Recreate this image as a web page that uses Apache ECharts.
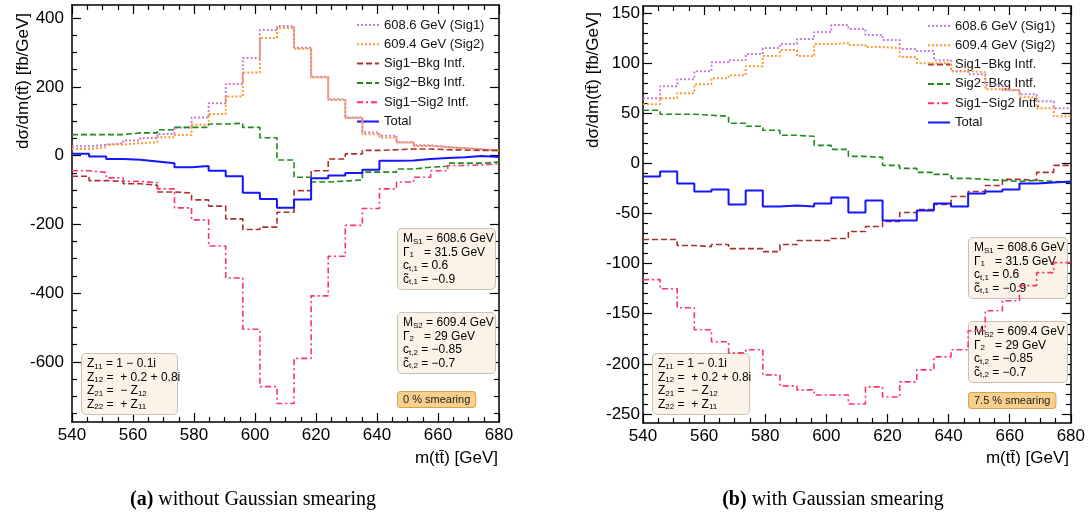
<!DOCTYPE html>
<html>
<head>
<meta charset="utf-8">
<title>m(tt) interference, two resonances</title>
<script src="https://cdn.jsdelivr.net/npm/echarts@6.0.0/dist/echarts.min.js"></script>
<style>
  * { margin: 0; padding: 0; }
  body { background: #fff; }
  #main { width: 1088px; height: 523px; }
</style>
</head>
<body>
<div id="main"></div>
<script>
// bin edges in m(tt) [GeV], 25 bins of 5.6 GeV
var binEdges = [540, 545.6, 551.2, 556.8, 562.4, 568, 573.6, 579.2, 584.8, 590.4, 596, 601.6, 607.2,
  612.8, 618.4, 624, 629.6, 635.2, 640.8, 646.4, 652, 657.6, 663.2, 668.8, 674.4, 680];

// (a) 0% smearing
var sig1A  = [27, 31, 36, 44, 51, 63, 82, 111, 152, 208, 284, 365, 377, 314, 229, 164, 111, 67, 58, 39, 30, 25, 22, 19, 15];
var sig2A  = [19, 24, 32, 36, 39, 53, 60, 90, 121, 172, 242, 342, 371, 311, 227, 162, 109, 62, 52, 38, 28, 24, 21, 18, 14];
var s1bkgA = [-60, -73, -75, -82, -86, -106, -109, -129, -147, -184, -215, -208, -165, -102, -44, -10, 5, 15, 17, 19, 19, 17, 16, 15, 15];
var s2bkgA = [61, 61, 61, 66, 66, 75, 82, 82, 92, 94, 82, 52, -13, -63, -77, -74, -71, -48, -48, -39, -34, -31, -22, -22, -19];
var s1s2A  = [-44, -49, -65, -75, -79, -97, -152, -187, -263, -356, -505, -672, -721, -590, -408, -293, -203, -154, -97, -77, -63, -44, -29, -27, -24];
var totalA = [5, -3, -10, -12, -17, -22, -34, -30, -44, -60, -108, -126, -152, -128, -66, -58, -51, -41, -15, -14, -10, -7, -5, -1, -4];

// (b) 7.5% smearing
var sig1B  = [65, 77, 84, 92, 101, 103, 109, 115, 119, 124, 131, 138, 134, 128, 123, 114, 112, 103, 92, 89, 78, 73, 69, 62, 55];
var sig2B  = [59, 65, 70, 79, 85, 88, 97, 107, 113, 107, 119, 120, 118, 116, 115, 106, 100, 100, 92, 91, 74, 73, 66, 55, 47];
var s1bkgB = [-76, -76, -82, -83, -81, -85, -85, -88, -81, -77, -77, -75, -68, -63, -58, -49, -46, -41, -33, -28, -22, -16, -17, -9, -2];
var s2bkgB = [53, 49, 49, 48, 47, 40, 37, 33, 28, 27, 18, 14, 7, 6, -2, -5, -9, -11, -15, -16, -17, -18, -17, -18, -19];
var s1s2B  = [-116, -125, -144, -166, -178, -189, -186, -211, -222, -226, -231, -231, -240, -223, -233, -218, -206, -193, -186, -167, -147, -137, -122, -109, -99];
var totalB = [-13, -8, -20, -28, -26, -41, -27, -43, -42, -43, -40, -34, -49, -37, -57, -57, -47, -40, -43, -30, -28, -26, -20, -19, -18];

// tick labels
var xTicks = [540, 560, 580, 600, 620, 640, 660, 680];
var yTicksA = [-600, -400, -200, 0, 200, 400];
var yTicksB = [-250, -200, -150, -100, -50, 0, 50, 100, 150];

var names = ['608.6 GeV (Sig1)', '609.4 GeV (Sig2)', 'Sig1\u2212Bkg Intf.', 'Sig2\u2212Bkg Intf.', 'Sig1\u2212Sig2 Intf.', 'Total'];
var styles = [
  { color: '#c57dd8', type: [2, 2], width: 2 },
  { color: '#ff9a33', type: [2, 2], width: 2 },
  { color: '#a8302e', type: [6, 3], width: 1.6 },
  { color: '#1f8a1f', type: [6, 3], width: 1.6 },
  { color: '#ff3366', type: [6, 3, 2, 3], width: 1.6 },
  { color: '#1515ff', type: 'solid', width: 2 }
];

var FONT = 'Liberation Sans';

function stepData(vals) {
  var d = vals.map(function (v, i) { return [binEdges[i], v]; });
  d.push([binEdges[binEdges.length - 1], vals[vals.length - 1]]);
  return d;
}

function minorTicks(min, max, step, majors) {
  var out = [];
  for (var v = Math.ceil(min / step) * step; v <= max; v += step) {
    if (majors.indexOf(v) < 0) out.push(v);
  }
  return out;
}

function xAx(grid, pos, label) {
  return {
    type: 'value', gridIndex: grid, position: pos, min: 540, max: 680, interval: 20,
    axisLine: { show: true, onZero: false, lineStyle: { color: '#000', width: 1.5 } },
    axisTick: { show: true, inside: true, length: 9, lineStyle: { color: '#000', width: 1.2 } },
    minorTick: { show: true, splitNumber: 4, length: 5, lineStyle: { color: '#000', width: 1.2 } },
    axisLabel: { show: label, color: '#000', fontSize: 17, fontFamily: FONT, margin: 5, customValues: xTicks },
    splitLine: { show: false }
  };
}

function yAx(grid, pos, min, max, ticks, len, label, line, margin) {
  return {
    type: 'value', gridIndex: grid, position: pos, min: min, max: max,
    axisLine: { show: line, onZero: false, lineStyle: { color: '#000', width: 1.5 } },
    axisTick: { show: true, inside: true, length: len, customValues: ticks, lineStyle: { color: '#000', width: 1.2 } },
    axisLabel: { show: label, customValues: ticks, color: '#000', fontSize: 17, fontFamily: FONT, margin: margin },
    splitLine: { show: false }
  };
}

function histo(k, vals, xi, yi) {
  var s = styles[k];
  return {
    name: names[k], type: 'line', step: 'end', symbol: 'none', animation: false,
    xAxisIndex: xi, yAxisIndex: yi, data: stepData(vals), z: 3 + k,
    lineStyle: { color: s.color, type: s.type, width: s.width },
    itemStyle: { color: s.color }
  };
}

var rich = {
  n: { fontSize: 12, fontFamily: FONT, color: '#222', lineHeight: 13.5 },
  s: { fontSize: 8, fontFamily: FONT, color: '#222', lineHeight: 9, verticalAlign: 'bottom' }
};

function infoBox(x, y, w, lines, fill, border) {
  return {
    type: 'text', x: x, y: y, z: 1,
    style: {
      text: lines.join('\n'), rich: rich, width: w,
      backgroundColor: fill || '#fbf3e7', borderColor: border || '#c8c1b6', borderWidth: 1, borderRadius: 4,
      padding: [3, 4, 3, 5]
    }
  };
}

var boxS1 = ['{n|M}{s|S1}{n| = 608.6 GeV}', '{n|\u0393}{s|1}{n|   = 31.5 GeV}', '{n|c}{s|t,1}{n| = 0.6}', '{n|c\u0303}{s|t,1}{n| = \u22120.9}'];
var boxS2 = ['{n|M}{s|S2}{n| = 609.4 GeV}', '{n|\u0393}{s|2}{n|   = 29 GeV}', '{n|c}{s|t,2}{n| = \u22120.85}', '{n|c\u0303}{s|t,2}{n| = \u22120.7}'];
var boxZ = ['{n|Z}{s|11}{n| = 1 \u2212 0.1i}', '{n|Z}{s|12}{n| =  + 0.2 + 0.8i}', '{n|Z}{s|21}{n| =  \u2212 Z}{s|12}', '{n|Z}{s|22}{n| =  + Z}{s|11}'];

function label(x, y, text, opts, rot) {
  var st = { text: text, font: '17px ' + FONT, fill: '#000', align: 'center', verticalAlign: 'middle' };
  for (var k in opts) st[k] = opts[k];
  return { type: 'text', x: x, y: y, z: 5, rotation: rot || 0, style: st };
}

var yTitle = 'd\u03c3/dm(tt\u0304) [fb/GeV]';
var xTitle = 'm(tt\u0304) [GeV]';

function legendAt(left, top) {
  return {
    data: names, left: left, top: top, orient: 'vertical', padding: 0,
    itemWidth: 22, itemHeight: 13, itemGap: 6.3, z: 1, selectedMode: false,
    itemStyle: { opacity: 0 },
    textStyle: { fontSize: 13, fontFamily: FONT, color: '#111' }
  };
}

var chart = echarts.init(document.getElementById('main'));
var option = {
  backgroundColor: '#fff',
  animation: false,
  grid: [
    { left: 72, top: 5, width: 427, height: 417 },
    { left: 643, top: 6, width: 428, height: 417 }
  ],
  xAxis: [xAx(0, 'bottom', true), xAx(0, 'top', false), xAx(1, 'bottom', true), xAx(1, 'top', false)],
  yAxis: [
    yAx(0, 'left', -775, 438, yTicksA, 9, true, true, 8),
    yAx(0, 'left', -775, 438, minorTicks(-775, 438, 50, yTicksA), 5, false, false, 8),
    yAx(0, 'right', -775, 438, yTicksA, 9, false, true, 8),
    yAx(0, 'right', -775, 438, minorTicks(-775, 438, 50, yTicksA), 5, false, false, 8),
    yAx(1, 'left', -259, 157, yTicksB, 9, true, true, 3),
    yAx(1, 'left', -259, 157, minorTicks(-259, 157, 10, yTicksB), 5, false, false, 3),
    yAx(1, 'right', -259, 157, yTicksB, 9, false, true, 3),
    yAx(1, 'right', -259, 157, minorTicks(-259, 157, 10, yTicksB), 5, false, false, 3)
  ],
  legend: [legendAt(356, 18.5), legendAt(927, 19.5)],
  series: [
    histo(0, sig1A, 0, 0), histo(1, sig2A, 0, 0), histo(2, s1bkgA, 0, 0),
    histo(3, s2bkgA, 0, 0), histo(4, s1s2A, 0, 0), histo(5, totalA, 0, 0),
    histo(0, sig1B, 2, 4), histo(1, sig2B, 2, 4), histo(2, s1bkgB, 2, 4),
    histo(3, s2bkgB, 2, 4), histo(4, s1s2B, 2, 4), histo(5, totalB, 2, 4)
  ],
  graphic: [
    // axis titles
    label(23, 81, yTitle, {}, Math.PI / 2),
    label(593, 80, yTitle, {}, Math.PI / 2),
    label(498, 458, xTitle, { align: 'right' }),
    label(1069, 458, xTitle, { align: 'right' }),
    // parameter boxes, panel (a)
    infoBox(398, 229, 88, boxS1),
    infoBox(398, 313, 88, boxS2),
    infoBox(82, 354, 86, boxZ),
    { type: 'text', x: 398, y: 392, z: 1, style: { text: '0 % smearing', font: '11px ' + FONT, fill: '#222',
      backgroundColor: '#f8cf8d', borderColor: '#d6a552', borderWidth: 1, borderRadius: 3, padding: [2, 5, 2, 5] } },
    // parameter boxes, panel (b)
    infoBox(969, 238, 89, boxS1),
    infoBox(969, 322, 89, boxS2),
    infoBox(653, 354, 87, boxZ),
    { type: 'text', x: 969, y: 393, z: 1, style: { text: '7.5 % smearing', font: '11px ' + FONT, fill: '#222',
      backgroundColor: '#f8cf8d', borderColor: '#d6a552', borderWidth: 1, borderRadius: 3, padding: [2, 5, 2, 5] } },
    // captions
    label(253, 500, '{b|(a)} without Gaussian smearing', { font: '20px Liberation Serif',
      rich: { b: { fontWeight: 'bold', fontSize: 20, fontFamily: 'Liberation Serif' } } }),
    label(833, 500, '{b|(b)} with Gaussian smearing', { font: '20px Liberation Serif',
      rich: { b: { fontWeight: 'bold', fontSize: 20, fontFamily: 'Liberation Serif' } } })
  ]
};
chart.setOption(option);
</script>
</body>
</html>
